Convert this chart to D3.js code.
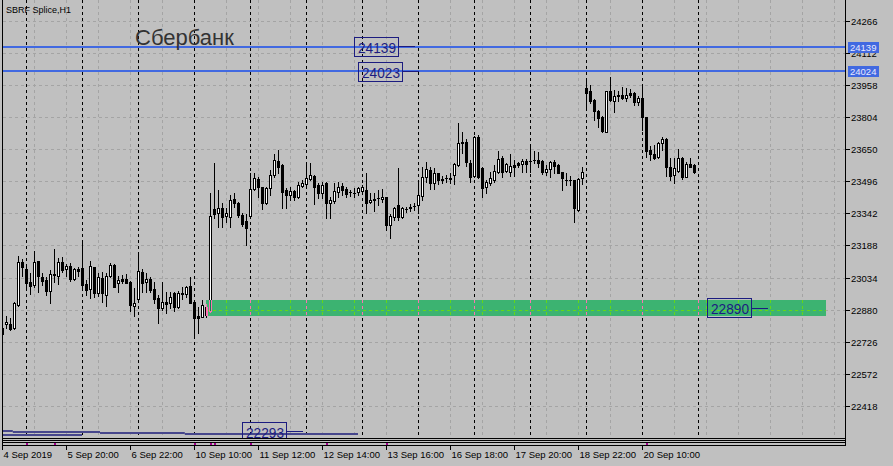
<!DOCTYPE html>
<html><head><meta charset="utf-8">
<script src="https://cdn.jsdelivr.net/npm/d3@7/dist/d3.min.js"></script>
<style>html,body{margin:0;padding:0;background:#c0c0c0;overflow:hidden}</style>
</head><body><svg id="c" width="893" height="466"></svg>
<script>
// ---------------- DATA ----------------
const candleOpen = [22792,22811,22813,22792,22904,23112,23076,23016,23000,23116,23037,23024,22973,23053,23045,23109,23076,23092,23027,23077,
23080,23003,22979,23085,22960,23032,22952,23045,23096,23011,23029,23029,23016,22901,22933,23064,23013,23029,22979,22936,
22891,22920,22915,22963,22896,22963,22955,22997,22917,22851,22848,22896,22875,23365,23345,23369,23332,23325,23414,23393,
23336,23310,23332,23460,23508,23473,23393,23465,23529,23598,23577,23457,23433,23454,23425,23478,23486,23508,23524,23481,
23444,23489,23393,23406,23449,23476,23462,23446,23444,23446,23454,23457,23398,23412,23417,23412,23422,23289,23329,23385,
23325,23366,23372,23380,23385,23428,23521,23553,23492,23537,23508,23513,23512,23529,23577,23684,23689,23585,23524,23713,
23561,23473,23492,23505,23545,23609,23548,23545,23577,23585,23580,23596,23598,23600,23601,23596,23545,23556,23590,23577,
23545,23505,23505,23505,23361,23513,23946,23930,23890,23834,23809,23737,23933,23886,23914,23914,23901,23922,23925,23877,
23898,23805,23649,23630,23617,23681,23702,23569,23529,23550,23609,23521,23580,23577];
const candleHigh = [22803,22851,22840,22920,23140,23124,23096,23056,23164,23117,23059,23040,23072,23173,23128,23133,23101,23104,23080,23085,
23209,23024,23117,23088,23056,23064,23056,23108,23101,23045,23048,23053,23021,22984,23148,23076,23056,23040,23016,22952,
23013,22968,22968,22968,22973,22992,22995,23040,22928,22896,22928,22907,23441,23588,23457,23393,23369,23433,23441,23401,
23345,23341,23537,23537,23518,23473,23473,23553,23630,23649,23582,23465,23473,23457,23497,23505,23585,23585,23529,23489,
23497,23497,23425,23492,23497,23489,23473,23457,23468,23473,23481,23537,23441,23444,23457,23460,23425,23341,23377,23561,
23377,23377,23388,23393,23500,23569,23593,23566,23561,23540,23524,23527,23537,23585,23777,23737,23701,23601,23717,23721,
23569,23505,23545,23577,23646,23620,23588,23630,23601,23593,23604,23604,23668,23646,23641,23601,23577,23598,23601,23580,
23545,23537,23524,23506,23513,23569,23989,23962,23893,23842,23813,23934,23999,23938,23934,23951,23946,23941,23928,23906,
23954,23806,23668,23673,23689,23713,23705,23609,23609,23654,23614,23593,23609,23582];
const candleLow = [22752,22792,22784,22787,22901,23045,22984,22955,22992,22965,23000,22952,22912,23016,23003,23064,23043,23021,23024,23045,
22984,22952,22936,22944,22947,22920,22901,23037,22989,22968,23008,23011,22877,22851,22931,22968,22968,22968,22912,22816,
22880,22864,22888,22875,22891,22931,22944,22912,22760,22771,22845,22845,22870,23321,23277,23277,23305,23277,23377,23329,
23285,23192,23329,23457,23425,23365,23390,23433,23521,23537,23369,23369,23409,23409,23417,23473,23481,23505,23390,23417,
23417,23321,23321,23393,23425,23433,23425,23430,23425,23433,23441,23348,23393,23357,23385,23401,23265,23224,23313,23313,
23321,23353,23358,23361,23348,23409,23497,23462,23462,23486,23492,23497,23489,23486,23572,23633,23572,23497,23521,23513,
23425,23441,23481,23497,23537,23521,23542,23526,23526,23566,23545,23545,23545,23585,23566,23532,23529,23521,23537,23537,
23457,23481,23481,23305,23356,23486,23850,23874,23793,23761,23737,23733,23882,23829,23882,23893,23882,23902,23866,23866,
23745,23614,23601,23604,23609,23649,23524,23505,23489,23545,23508,23518,23566,23540];
const candleClose = [22763,22824,22787,22915,23112,23088,23008,22997,23112,23045,23021,22971,23051,23047,23109,23072,23092,23027,23076,23069,
23000,22976,23092,22963,23037,22960,23043,23096,22992,23024,23021,23011,22904,22915,23068,23011,23029,22976,22933,22888,
22920,22907,22944,22896,22963,22955,22992,22915,22843,22843,22904,22856,23332,23341,23369,23329,23348,23409,23393,23337,
23295,23273,23460,23513,23473,23393,23468,23529,23601,23569,23449,23433,23452,23422,23481,23492,23513,23529,23473,23444,
23481,23393,23409,23452,23473,23457,23438,23445,23443,23465,23473,23396,23409,23411,23416,23425,23289,23332,23369,23325,
23369,23366,23373,23380,23433,23521,23556,23489,23540,23505,23507,23514,23514,23580,23684,23685,23593,23521,23710,23521,
23468,23497,23513,23548,23604,23545,23582,23572,23569,23577,23596,23582,23597,23601,23588,23545,23558,23590,23572,23540,
23516,23504,23506,23369,23510,23542,23925,23882,23834,23801,23741,23930,23890,23909,23906,23898,23914,23914,23877,23898,
23805,23644,23630,23609,23684,23702,23569,23524,23561,23609,23521,23580,23569,23545];

const yTickValues = [24266,24112,23958,23804,23650,23496,23342,23188,23034,22880,22726,22572,22418];
const xTickBars   = [0,16,32,48,64,80,96,112,128,144,160];
const xTickLabels = ["4 Sep 2019","5 Sep 20:00","6 Sep 22:00","10 Sep 10:00","11 Sep 12:00","12 Sep 14:00",
                     "13 Sep 16:00","16 Sep 18:00","17 Sep 20:00","18 Sep 22:00","20 Sep 10:00"];
const daySeparatorBars = [6,20,34,48,62,76,90,104,118,132,146,160,174];
const hLinePrices = [24139,24024];
const hLineAxisLabels = ["24139","24024"];
const zoneTop = 22928, zoneBottom = 22853, zoneStartBar = 51, zoneEndBar = 206;
const chartLabels = ["24139","24023","22890","22293"];
const chartLabelBars = [88, 88.9, 176.2, 60.1];
const chartLabelPrices = [24193, 24070, 22937, 22344];
const chartLabelLinePrices = [24144, 24025, 22889, 22295];
const stepLevelStart = [0, 2.7, 24.5, 45.7];
const stepLevelEnd   = [2.7, 24.5, 45.7, 89];
const stepLevelPrice = [22298, 22291, 22288, 22282];
const lowLevelStart = [0], lowLevelEnd = [20], lowLevelPrice = [22278];
const eventBars = [6,13,48,52,53,62,81,96,161];

// ---------------- CHART ----------------
const svg = d3.select('#c');
const FONT = "'Liberation Sans', Arial, sans-serif";
const L = 2, R = 845, B = 438;
const x = d3.scaleLinear().domain([0,210]).range([2,842]);
const y = d3.scaleLinear().domain([22418,24266]).range([406.3,21.5]);
const px = i => Math.round(x(i)) + 0.5;
const py = p => Math.floor(y(p)) + 0.5;

svg.append('rect').attr('width',893).attr('height',466).attr('fill','#c0c0c0');

const GRID = '#a4a4a4';
function drawGrid(g, gridColor, sepColor){
  g.selectAll('.hg').data(yTickValues).enter().append('line')
    .attr('x1',L+1).attr('x2',R).attr('y1',d=>py(d)).attr('y2',d=>py(d))
    .attr('stroke',gridColor).attr('stroke-dasharray','3,3');
  const vb = d3.range(8, 210, 8);
  g.selectAll('.vg').data(vb).enter().append('line')
    .attr('x1',d=>px(d)).attr('x2',d=>px(d)).attr('y1',0).attr('y2',B)
    .attr('stroke',gridColor).attr('stroke-dasharray','3,3');
  g.selectAll('.sep').data(daySeparatorBars).enter().append('line')
    .attr('x1',d=>px(d)).attr('x2',d=>px(d)).attr('y1',0).attr('y2',B)
    .attr('stroke',sepColor).attr('stroke-dasharray','3,3');
}

const candles = d3.range(candleOpen.length).map(i=>({i,o:candleOpen[i],h:candleHigh[i],l:candleLow[i],c:candleClose[i]}));
function drawCandles(g, lineColor, upFill){
  const cg = g.selectAll('.cd').data(candles).enter().append('g');
  cg.append('line').attr('x1',d=>px(d.i)).attr('x2',d=>px(d.i))
    .attr('y1',d=>Math.round(y(d.h))).attr('y2',d=>Math.round(y(d.l))+1)
    .attr('stroke',lineColor);
  cg.each(function(d){
    const s = d3.select(this);
    const top = Math.round(y(Math.max(d.o,d.c))), bot = Math.round(y(Math.min(d.o,d.c)));
    const cx = Math.round(x(d.i));
    if (bot - top < 1) {
      s.append('line').attr('x1',cx-1).attr('x2',cx+2).attr('y1',top+0.5).attr('y2',top+0.5).attr('stroke',lineColor);
    } else if (d.c >= d.o) {
      s.append('rect').attr('x',cx-0.5).attr('y',top+0.5).attr('width',2).attr('height',bot-top)
        .attr('fill',upFill).attr('stroke',lineColor);
    } else {
      s.append('rect').attr('x',cx-1).attr('y',top).attr('width',3).attr('height',bot-top+1)
        .attr('fill',lineColor);
    }
  });
}

const defs = svg.append('defs');
defs.append('clipPath').attr('id','plot').append('rect').attr('x',L+1).attr('y',0).attr('width',R-L-1).attr('height',B);
const zx0 = Math.round(x(zoneStartBar)), zx1 = Math.round(x(zoneEndBar));
const zy0 = Math.round(y(zoneTop)), zy1 = Math.round(y(zoneBottom));
defs.append('clipPath').attr('id','zone').append('rect').attr('x',zx0).attr('y',zy0).attr('width',zx1-zx0).attr('height',zy1-zy0);

const plot = svg.append('g').attr('clip-path','url(#plot)');
drawGrid(plot.append('g'), GRID, '#000');

// horizontal blue levels
plot.selectAll('.hl').data(hLinePrices).enter().append('line')
  .attr('x1',L).attr('x2',R).attr('y1',d=>Math.floor(y(d))).attr('y2',d=>Math.floor(y(d)))
  .attr('stroke','#4169e1').attr('stroke-width',2);

drawCandles(plot.append('g'), '#000', '#fff');

// zone rectangle with XOR-like overlay
plot.append('rect').attr('x',zx0).attr('y',zy0).attr('width',zx1-zx0).attr('height',zy1-zy0).attr('fill','#3cb371');
const zg = plot.append('g').attr('clip-path','url(#zone)');
drawGrid(zg, '#62d818', '#fc73b1');
drawCandles(zg, '#fc73b1', '#038c4e');

// bottom step levels
const NAVY = '#46468c';
plot.selectAll('.st').data(stepLevelPrice).enter().append('line')
  .attr('x1',(d,i)=>x(stepLevelStart[i])).attr('x2',(d,i)=>x(stepLevelEnd[i]))
  .attr('y1',d=>Math.floor(y(d))).attr('y2',d=>Math.floor(y(d)))
  .attr('stroke',NAVY).attr('stroke-width',2);
plot.selectAll('.lw').data(lowLevelPrice).enter().append('line')
  .attr('x1',(d,i)=>x(lowLevelStart[i])).attr('x2',(d,i)=>x(lowLevelEnd[i]))
  .attr('y1',d=>Math.floor(y(d))).attr('y2',d=>Math.floor(y(d)))
  .attr('stroke',NAVY).attr('stroke-width',2);

// text labels with boxes
const TXT = '#1c1c80';
chartLabels.forEach((t,i)=>{
  const bx = Math.round(x(chartLabelBars[i])), by = Math.round(y(chartLabelPrices[i]));
  const g = plot.append('g');
  g.append('text').attr('x',bx+4).attr('y',by+16).text(t)
    .attr('font-family',FONT).attr('font-size',15).attr('fill',TXT)
    .attr('textLength',38).attr('lengthAdjust','spacingAndGlyphs');
  g.append('rect').attr('x',bx+0.5).attr('y',by+0.5).attr('width',44).attr('height',19)
    .attr('fill','none').attr('stroke',TXT);
  const ly = Math.floor(y(chartLabelLinePrices[i])) + 0.5;
  g.append('line').attr('x1',bx+45).attr('x2',bx+61).attr('y1',ly).attr('y2',ly).attr('stroke',TXT);
});

// title texts
svg.append('text').attr('x',6).attr('y',13).text('SBRF Splice,H1')
  .attr('font-family',FONT).attr('font-size',9).attr('fill','#000');
svg.append('text').attr('x',135).attr('y',45).text('Сбербанк')
  .attr('font-family',FONT).attr('font-size',22).attr('fill','#333');

// frames
const fr = svg.append('g').attr('stroke','#000').attr('shape-rendering','crispEdges');
fr.append('line').attr('x1',L+0.5).attr('x2',L+0.5).attr('y1',0).attr('y2',446);
fr.append('line').attr('x1',R+0.5).attr('x2',R+0.5).attr('y1',0).attr('y2',446);
[438,440,442,445].forEach(r=>fr.append('line').attr('x1',L).attr('x2',R+1).attr('y1',r+0.5).attr('y2',r+0.5));

// event markers
svg.selectAll('.ev').data(eventBars).enter().append('rect')
  .attr('x',d=>Math.round(x(d))).attr('y',443).attr('width',2).attr('height',2).attr('fill','#a0008c');

// right axis
const ax = svg.append('g');
yTickValues.forEach(v=>{
  const yy = py(v);
  ax.append('line').attr('x1',R+1).attr('x2',R+5).attr('y1',yy).attr('y2',yy).attr('stroke','#000');
  ax.append('text').attr('x',R+6).attr('y',yy+3.5).text(v)
    .attr('font-family',FONT).attr('font-size',9.5).attr('fill','#000');
});
hLinePrices.forEach((p,i)=>{
  const yy = Math.floor(y(p));
  ax.append('rect').attr('x',R+3).attr('y',yy-5).attr('width',31).attr('height',11).attr('fill','#4169e1');
  ax.append('text').attr('x',R+5).attr('y',yy+4).text(hLineAxisLabels[i])
    .attr('font-family',FONT).attr('font-size',9.5).attr('fill','#e8e8ff');
});

// bottom axis
xTickBars.forEach((b,i)=>{
  const xx = px(b);
  ax.append('line').attr('x1',xx).attr('x2',xx).attr('y1',446).attr('y2',450).attr('stroke','#000');
  ax.append('text').attr('x',xx+1).attr('y',458).text(xTickLabels[i])
    .attr('font-family',FONT).attr('font-size',9.5).attr('fill','#000');
});
</script></body></html>
